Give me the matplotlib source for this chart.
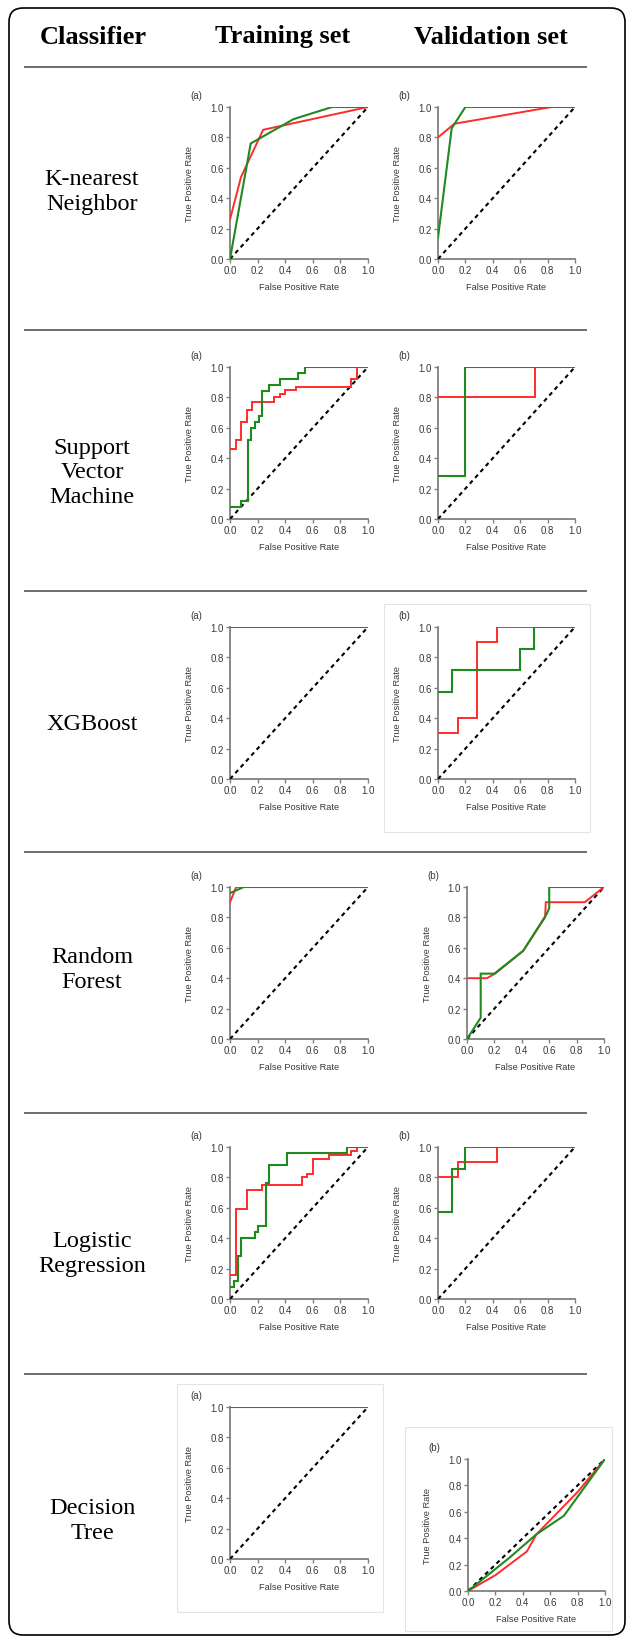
import matplotlib
matplotlib.use('Agg')
import matplotlib.pyplot as plt
from matplotlib.patches import FancyBboxPatch, Rectangle

W, H = 627, 1640

headers = ["Classifier", "Training set", "Validation set"]
classifiers = ["K-nearest\nNeighbor", "Support\nVector\nMachine", "XGBoost",
               "Random\nForest", "Logistic\nRegression", "Decision\nTree"]
ticks = [0.0, 0.2, 0.4, 0.6, 0.8, 1.0]
tick_labels = ["0.0", "0.2", "0.4", "0.6", "0.8", "1.0"]
panel_tags = ["(a)", "(b)"]

# ---- K-nearest Neighbor ----
knn_tr_red_x = [0.0, 0.08, 0.24, 1.0]
knn_tr_red_y = [0.26, 0.54, 0.85, 1.0]
knn_tr_green_x = [0.0, 0.15, 0.46, 0.74, 1.0]
knn_tr_green_y = [0.0, 0.76, 0.92, 1.0, 1.0]
knn_va_red_x = [0.0, 0.12, 0.83, 1.0]
knn_va_red_y = [0.80, 0.89, 1.0, 1.0]
knn_va_green_x = [0.0, 0.10, 0.20, 1.0]
knn_va_green_y = [0.14, 0.86, 1.0, 1.0]

# ---- Support Vector Machine ----
svm_tr_red_x = [0.0, 0.04, 0.04, 0.08, 0.08, 0.12, 0.12, 0.16, 0.16, 0.32, 0.32, 0.36, 0.36,
                0.40, 0.40, 0.48, 0.48, 0.88, 0.88, 0.92, 0.92]
svm_tr_red_y = [0.46, 0.46, 0.52, 0.52, 0.64, 0.64, 0.72, 0.72, 0.77, 0.77, 0.80, 0.80, 0.82,
                0.82, 0.85, 0.85, 0.87, 0.87, 0.92, 0.92, 1.0]
svm_tr_green_x = [0.0, 0.08, 0.08, 0.13, 0.13, 0.15, 0.15, 0.18, 0.18, 0.21, 0.21, 0.235, 0.235,
                  0.28, 0.28, 0.36, 0.36, 0.49, 0.49, 0.54, 0.54, 1.0]
svm_tr_green_y = [0.08, 0.08, 0.12, 0.12, 0.52, 0.52, 0.60, 0.60, 0.64, 0.64, 0.68, 0.68, 0.84,
                  0.84, 0.88, 0.88, 0.92, 0.92, 0.96, 0.96, 1.0, 1.0]
svm_va_red_x = [0.0, 0.71, 0.71, 1.0]
svm_va_red_y = [0.80, 0.80, 1.0, 1.0]
svm_va_green_x = [0.0, 0.20, 0.20, 1.0]
svm_va_green_y = [0.286, 0.286, 1.0, 1.0]

# ---- XGBoost ----
xgb_tr_red_x = [0.0, 1.0]
xgb_tr_red_y = [1.0, 1.0]
xgb_tr_green_x = [0.0, 1.0]
xgb_tr_green_y = [1.0, 1.0]
xgb_va_red_x = [0.0, 0.143, 0.143, 0.286, 0.286, 0.43, 0.43, 1.0]
xgb_va_red_y = [0.30, 0.30, 0.40, 0.40, 0.90, 0.90, 1.0, 1.0]
xgb_va_green_x = [0.0, 0.10, 0.10, 0.60, 0.60, 0.70, 0.70, 1.0]
xgb_va_green_y = [0.571, 0.571, 0.714, 0.714, 0.857, 0.857, 1.0, 1.0]

# ---- Random Forest ----
rf_tr_red_x = [0.0, 0.045, 1.0]
rf_tr_red_y = [0.90, 1.0, 1.0]
rf_tr_green_x = [0.0, 0.10, 1.0]
rf_tr_green_y = [0.96, 1.0, 1.0]
rf_va_red_x = [0.0, 0.145, 0.205, 0.41, 0.57, 0.575, 0.86, 1.0]
rf_va_red_y = [0.40, 0.40, 0.43, 0.58, 0.80, 0.90, 0.90, 1.0]
rf_va_green_x = [0.0, 0.10, 0.10, 0.20, 0.41, 0.58, 0.60, 0.60, 1.0]
rf_va_green_y = [0.0, 0.14, 0.43, 0.43, 0.58, 0.82, 0.86, 1.0, 1.0]

# ---- Logistic Regression ----
lr_tr_red_x = [0.0, 0.04, 0.04, 0.125, 0.125, 0.235, 0.235, 0.525, 0.525, 0.56, 0.56, 0.60, 0.60,
               0.72, 0.72, 0.88, 0.88, 0.92, 0.92]
lr_tr_red_y = [0.16, 0.16, 0.59, 0.59, 0.72, 0.72, 0.75, 0.75, 0.80, 0.80, 0.82, 0.82, 0.92,
               0.92, 0.95, 0.95, 0.975, 0.975, 1.0]
lr_tr_green_x = [0.0, 0.03, 0.03, 0.055, 0.055, 0.077, 0.077, 0.18, 0.18, 0.205, 0.205, 0.26, 0.26,
                 0.28, 0.28, 0.41, 0.41, 0.85, 0.85, 1.0]
lr_tr_green_y = [0.08, 0.08, 0.12, 0.12, 0.28, 0.28, 0.40, 0.40, 0.44, 0.44, 0.48, 0.48, 0.76,
                 0.76, 0.88, 0.88, 0.96, 0.96, 1.0, 1.0]
lr_va_red_x = [0.0, 0.143, 0.143, 0.43, 0.43, 1.0]
lr_va_red_y = [0.80, 0.80, 0.90, 0.90, 1.0, 1.0]
lr_va_green_x = [0.0, 0.10, 0.10, 0.20, 0.20, 1.0]
lr_va_green_y = [0.571, 0.571, 0.857, 0.857, 1.0, 1.0]

# ---- Decision Tree ----
dt_tr_red_x = [0.0, 1.0]
dt_tr_red_y = [1.0, 1.0]
dt_tr_green_x = [0.0, 1.0]
dt_tr_green_y = [1.0, 1.0]
dt_va_red_x = [0.0, 0.20, 0.43, 0.50, 0.80, 1.0]
dt_va_red_y = [0.0, 0.12, 0.30, 0.43, 0.75, 1.0]
dt_va_green_x = [0.0, 0.30, 0.50, 0.70, 1.0]
dt_va_green_y = [0.0, 0.25, 0.43, 0.57, 1.0]

curves = [
    [(knn_tr_red_x, knn_tr_red_y, knn_tr_green_x, knn_tr_green_y),
     (knn_va_red_x, knn_va_red_y, knn_va_green_x, knn_va_green_y)],
    [(svm_tr_red_x, svm_tr_red_y, svm_tr_green_x, svm_tr_green_y),
     (svm_va_red_x, svm_va_red_y, svm_va_green_x, svm_va_green_y)],
    [(xgb_tr_red_x, xgb_tr_red_y, xgb_tr_green_x, xgb_tr_green_y),
     (xgb_va_red_x, xgb_va_red_y, xgb_va_green_x, xgb_va_green_y)],
    [(rf_tr_red_x, rf_tr_red_y, rf_tr_green_x, rf_tr_green_y),
     (rf_va_red_x, rf_va_red_y, rf_va_green_x, rf_va_green_y)],
    [(lr_tr_red_x, lr_tr_red_y, lr_tr_green_x, lr_tr_green_y),
     (lr_va_red_x, lr_va_red_y, lr_va_green_x, lr_va_green_y)],
    [(dt_tr_red_x, dt_tr_red_y, dt_tr_green_x, dt_tr_green_y),
     (dt_va_red_x, dt_va_red_y, dt_va_green_x, dt_va_green_y)],
]

# ---- layout (pixels) ----
boxes = [
    [(230, 368, 108, 260), (438, 575, 108, 260)],
    [(230, 368, 368, 520), (438, 575, 368, 520)],
    [(230, 368, 628, 780), (438, 575, 628, 780)],
    [(230, 368, 888, 1040), (467, 604, 888, 1040)],
    [(230, 368, 1148, 1300), (438, 575, 1148, 1300)],
    [(230, 368, 1408, 1560), (468, 605, 1460, 1592)],
]
label_y = [192, 473, 725, 970, 1254, 1521]
sep_y = [68, 331, 592, 853, 1114, 1375]
header_x = [93, 283, 491]
gray_frames = [(384, 605, 590, 833), (177, 1385, 383, 1613), (405, 1428, 612, 1632)]

RED = '#ff2b2b'
GREEN = '#1f8a1f'
AX_GRAY = '#808080'
TXT = '#3a3a3a'

fig = plt.figure(figsize=(W / 100, H / 100), dpi=100)
fig.patch.set_facecolor('white')

ov = fig.add_axes([0, 0, 1, 1], zorder=0)
ov.set_xlim(0, W)
ov.set_ylim(H, 0)
ov.axis('off')

ov.add_patch(FancyBboxPatch((9, 9), 616, 1627,
                            boxstyle="round,pad=0,rounding_size=14",
                            fc='none', ec='black', lw=1.2))
for (x0, y0, x1, y1) in gray_frames:
    ov.add_patch(Rectangle((x0, y0), x1 - x0, y1 - y0, fc='none', ec='#e4e4e4', lw=0.8))
for y in sep_y:
    ov.plot([24, 587], [y, y], color='#555555', lw=1.2, solid_capstyle='butt')
for hx, htxt in zip(header_x, headers):
    ov.text(hx, 37, htxt, ha='center', va='center', fontsize=19, fontweight='bold',
            fontfamily='Liberation Serif', color='black')
for ly, name in zip(label_y, classifiers):
    ov.text(92, ly, name, ha='center', va='center', fontsize=17.5,
            fontfamily='Liberation Serif', color='black', linespacing=1.22)

for r in range(6):
    for c in range(2):
        l, rr, t, b = boxes[r][c]
        ax = fig.add_axes([l / W, 1 - b / H, (rr - l) / W, (b - t) / H], zorder=2)
        ax.patch.set_alpha(0)
        rx, ry, gx, gy = curves[r][c]
        ax.plot([0, 1], [0, 1], color='black', lw=1.5, ls=(0, (2, 1.8)), zorder=1)
        ax.plot(rx, ry, color=RED, lw=1.4, zorder=2, solid_joinstyle='miter')
        ax.plot(gx, gy, color=GREEN, lw=1.5, zorder=3, solid_joinstyle='miter')
        ax.set_xlim(0, 1)
        ax.set_ylim(0, 1)
        ax.set_xticks(ticks)
        ax.set_yticks(ticks)
        ax.set_xticklabels(tick_labels)
        ax.set_yticklabels(tick_labels)
        for s in ('top', 'right'):
            ax.spines[s].set_visible(False)
        for s in ('left', 'bottom'):
            ax.spines[s].set_color(AX_GRAY)
            ax.spines[s].set_linewidth(1.3)
            ax.spines[s].set_zorder(0.5)
        ax.tick_params(direction='out', length=3, width=1, color=AX_GRAY,
                       labelsize=7, labelcolor=TXT, pad=1.5)
        for lab in ax.get_xticklabels() + ax.get_yticklabels():
            lab.set_fontfamily('Liberation Sans')
        wpx = rr - l
        hpx = b - t
        ax.text(-40 / wpx, 0.5, "True Positive Rate", rotation=90, transform=ax.transAxes,
                ha='center', va='center', fontsize=6.7, color=TXT, fontfamily='Liberation Sans')
        ax.text(0.5, -28 / hpx, "False Positive Rate", transform=ax.transAxes,
                ha='center', va='center', fontsize=6.7, color=TXT, fontfamily='Liberation Sans')
        ax.text(-40 / wpx, 1 + 12 / hpx, panel_tags[c], transform=ax.transAxes,
                ha='left', va='center', fontsize=7, color=TXT, fontfamily='Liberation Sans')

fig.savefig('out.png', dpi=100, facecolor='white')
